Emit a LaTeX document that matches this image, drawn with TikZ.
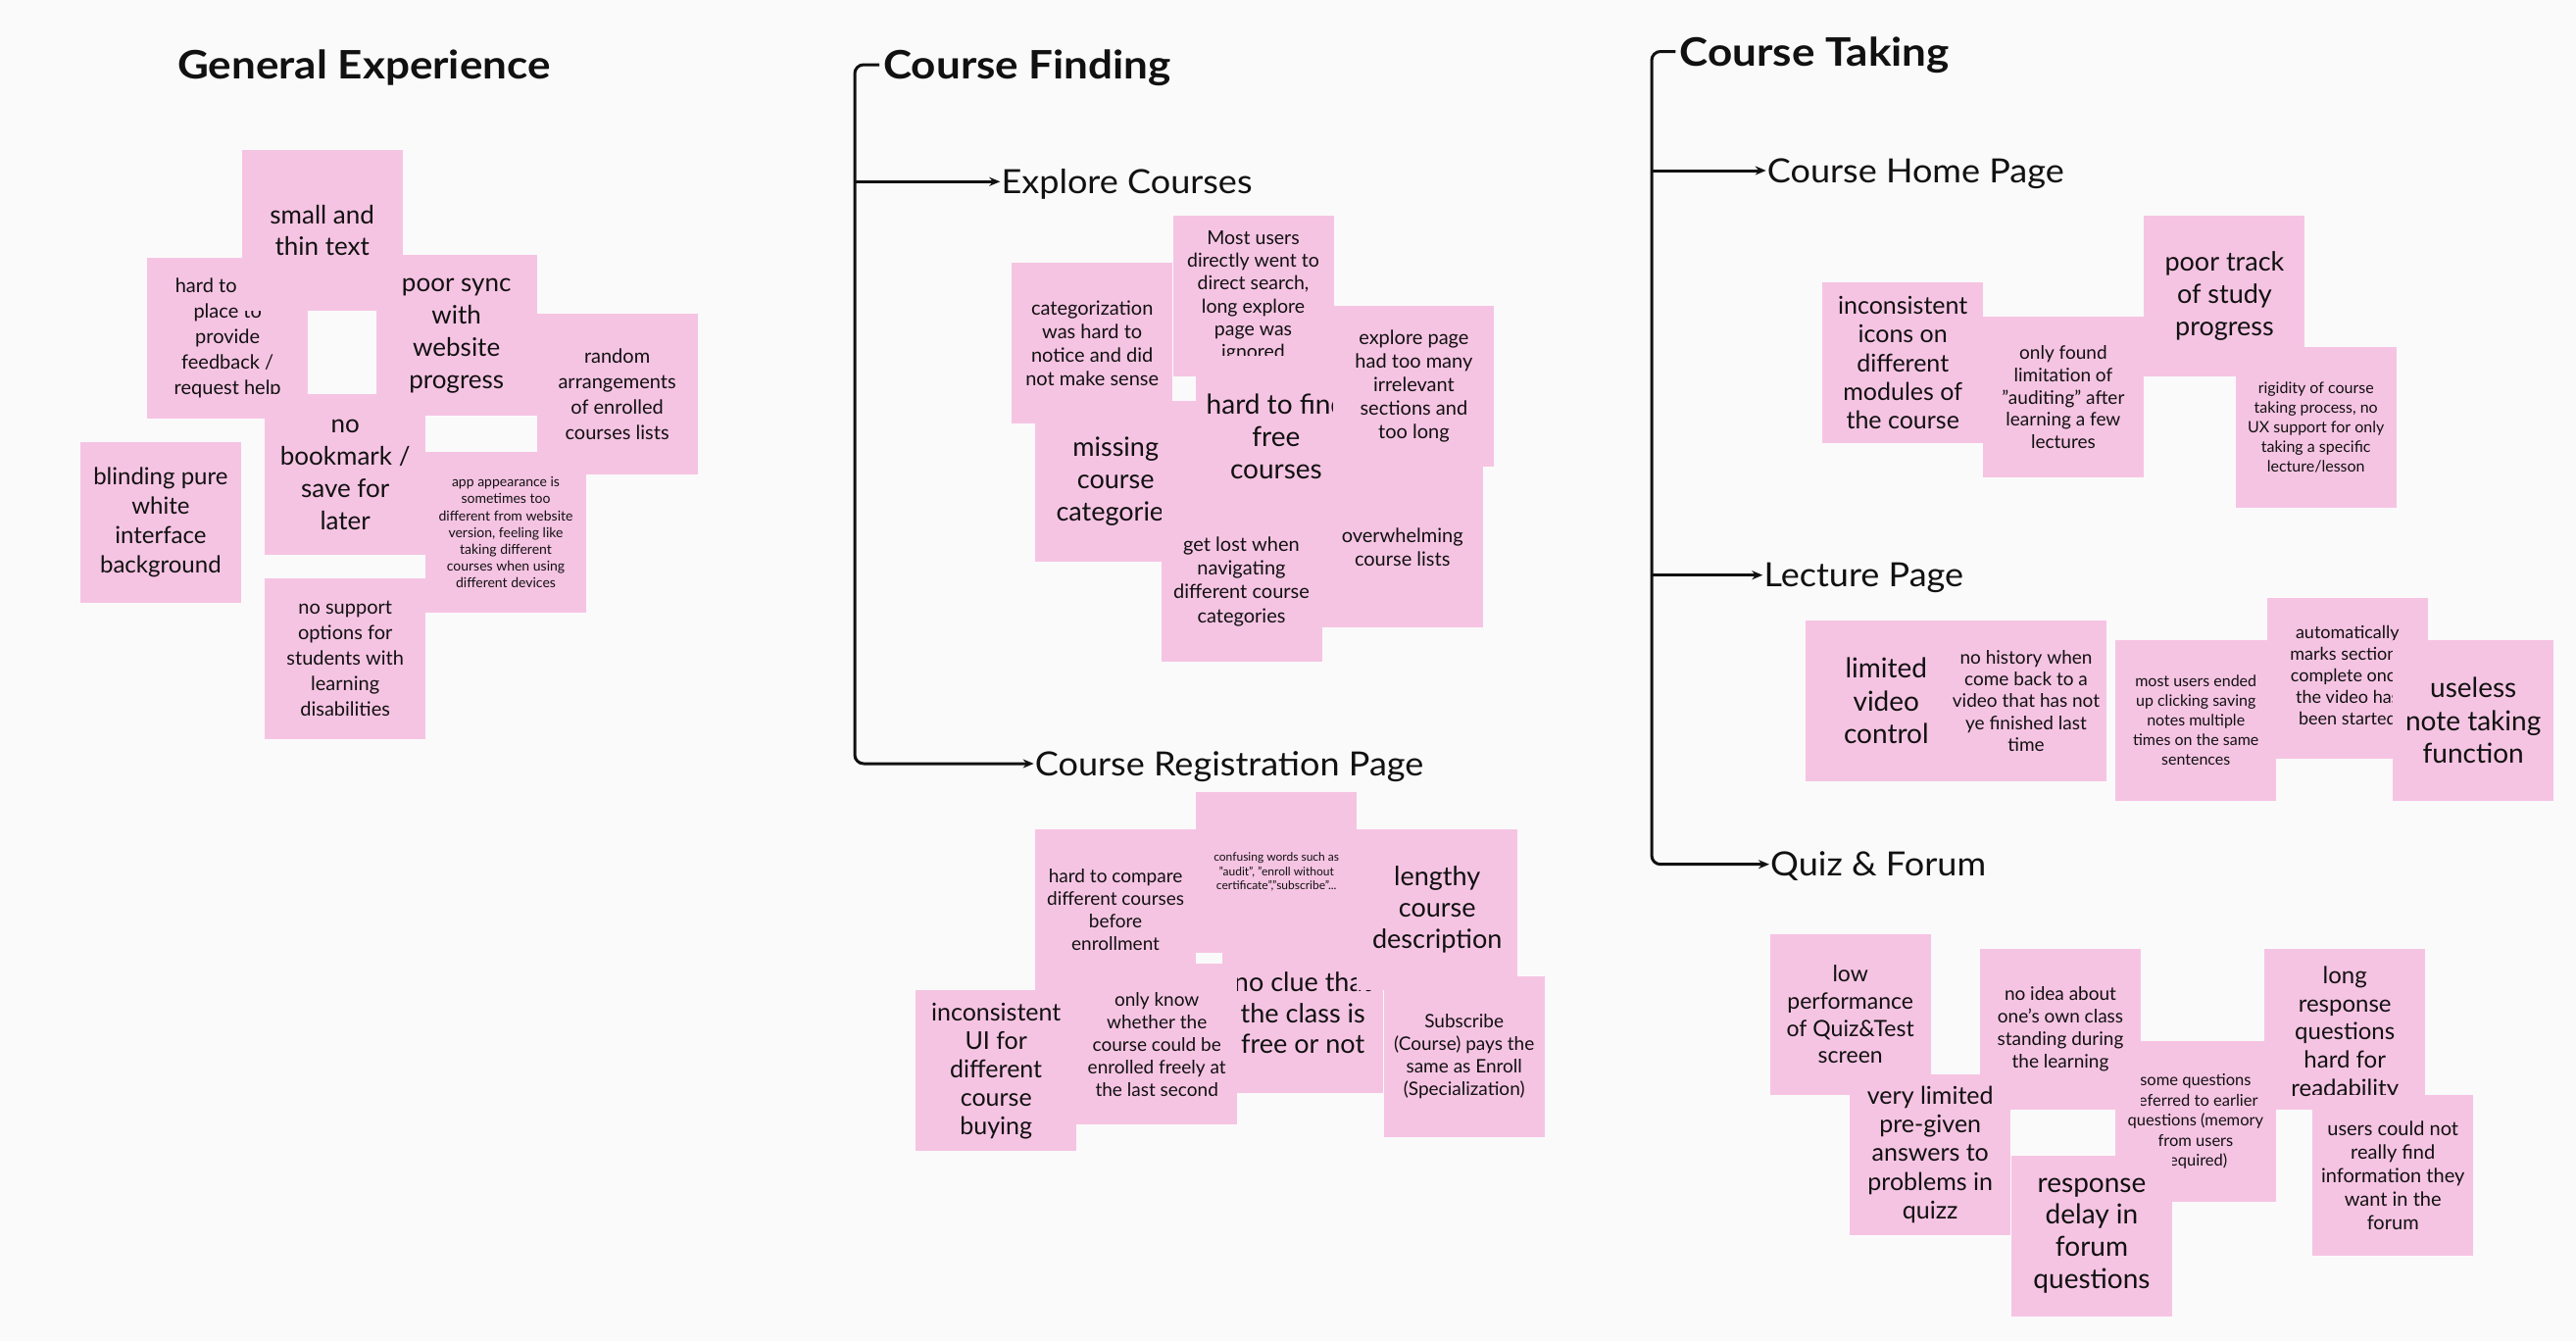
\documentclass[tikz,border=0pt]{standalone}
\usepackage{fontspec}
\setmainfont{Lato}
\newfontfamily\headfont{Lato}[FakeStretch=1.1]
\newfontfamily\subfont{Lato}[FakeStretch=1.06]
\usetikzlibrary{arrows.meta}
\definecolor{bgc}{HTML}{FAFAFA}
\definecolor{stk}{HTML}{F6C4E3}
\definecolor{ink}{HTML}{111111}
\begin{document}
\begin{tikzpicture}[x=1pt,y=-1pt,
  sticky/.style={fill=stk, anchor=north west, minimum width=164pt, minimum height=164pt, inner sep=0pt, align=center, text=ink},
  fs/.style n args={2}{font=\fontsize{#1}{#2}\selectfont},
  head/.style={anchor=west, inner xsep=4pt, inner ysep=0pt, font=\headfont\bfseries\fontsize{40}{48}\selectfont, text height=29pt, text depth=0pt, text=ink},
  sub/.style={anchor=west, inner sep=1pt, font=\subfont\fontsize{34}{40}\selectfont, text height=24pt, text depth=0pt, text=ink},
  conn/.style={draw=ink, line width=3pt, rounded corners=9pt, -{Stealth[length=11pt,width=9pt]}}]

\fill[bgc] (0,0) rectangle (2628,1368);
\useasboundingbox (0,0) rectangle (2628,1368);

% ---------------- headings ----------------
\node[head] (ge) at (177,66) {General Experience};
\node[head] (cf) at (897,66) {Course Finding};
\node[head] (ct) at (1709.3,52.5) {Course Taking};

\node[sub] (explore) at (1020.3,185.3) {Explore Courses};
\node[sub] (reg) at (1054.7,779) {Course Registration Page};
\node[sub] (home) at (1801.7,174) {Course Home Page};
\node[sub] (lecture) at (1798.3,586.7) {Lecture Page};
\node[sub] (quiz) at (1805,881.7) {Quiz \& Forum};

% ---------------- connectors ----------------
\coordinate (cfc) at (872,66);
\coordinate (cfb) at (872,185.3);
\draw[conn] (cf.west) -- (cfc) |- (reg.west);
\draw[conn] (cfb) -- (explore.west);

\coordinate (ctc) at (1685,52.5);
\coordinate (cth) at (1685,174);
\coordinate (ctl) at (1685,586.7);
\draw[conn] (ct.west) -- (ctc) |- (quiz.west);
\draw[conn] (cth) -- (home.west);
\draw[conn] (ctl) -- (lecture.west);

% ---------------- General Experience ----------------
\node[sticky, fs={20}{26}] (gehard) at (150,263) {\hspace*{10pt}hard to find a\\place to\\provide\\feedback /\\request help};
\node[sticky, fs={26}{33}] (gepoor) at (383.5,260) {poor sync\\with\\website\\progress};
\node[sticky, fs={26}{31.6}] (gesmall) at (246.5,153) {small and\\thin text};
\node[sticky, fs={20}{26}] (gerandom) at (547.4,320) {random\\arrangements\\of enrolled\\courses lists};
\node[sticky, fs={26}{33}] (gebook) at (270,402) {no\\bookmark /\\save for\\later};
\node[sticky, fs={24}{30}] (geblind) at (81.7,451) {blinding pure\\white\\interface\\background};
\node[sticky, fs={14}{17.2}] (geapp) at (433.8,461) {app appearance is\\sometimes too\\different from website\\version, feeling like\\taking different\\courses when using\\different devices};
\node[sticky, fs={20}{26}] (gesupport) at (270,590) {no support\\options for\\students with\\learning\\disabilities};

% ---------------- Explore Courses ----------------
\node[sticky, fs={20}{24.3}] (cfcat) at (1032,268) {categorization\\was hard to\\notice and did\\not make sense};
\node[sticky, fs={19.5}{23.2}] (cfmost) at (1196.3,220) {Most users\\directly went to\\direct search,\\long explore\\page was\\ignored};
\node[sticky, fs={27}{32.7}] (cfmissing) at (1056,409) {missing\\course\\categories};
\node[sticky, fs={28}{33.3}] (cfhard) at (1219.7,363) {hard to find\\free\\courses};
\node[sticky, fs={20}{24}] (cfexplore) at (1360.2,312) {explore page\\had too many\\irrelevant\\sections and\\too long};
\node[sticky, fs={20}{24.3}] (cflost) at (1184.3,511) {get lost when\\navigating\\different course\\categories};
\node[sticky, fs={20}{24}] (cfover) at (1348.5,476) {overwhelming\\course lists};

% ---------------- Course Registration Page ----------------
\node[sticky, fs={19}{23}] (crcompare) at (1055.9,845.7) {hard to compare\\different courses\\before\\enrollment};
\node[sticky, fs={12}{14.7}] (crconfuse) at (1220,807.3) {confusing words such as\\"audit", "enroll without\\certificate","subscribe"...};
\node[sticky, fs={27}{31.7}] (crnoclue) at (1247,951) {no clue that\\the class is\\free or not};
\node[sticky, fs={27}{31.7}] (crlengthy) at (1384,845.7) {lengthy\\course\\description};
\node[sticky, fs={19}{23}] (cronly) at (1098,983) {only know\\whether the\\course could be\\enrolled freely at\\the last second};
\node[sticky, fs={25}{29}] (crincons) at (934,1010) {inconsistent\\UI for\\different\\course\\buying};
\node[sticky, fs={19}{23}] (crsub) at (1411.5,995.7) {Subscribe\\(Course) pays the\\same as Enroll\\(Specialization)};

% ---------------- Course Home Page ----------------
\node[sticky, fs={25}{29.3}] (cticons) at (1859,288) {inconsistent\\icons on\\different\\modules of\\the course};
\node[sticky, fs={19}{22.7}] (ctfound) at (2022.7,323) {only found\\limitation of\\"auditing" after\\learning a few\\lectures};
\node[sticky, fs={27}{32.7}] (cttrack) at (2187.2,220) {poor track\\of study\\progress};
\node[sticky, fs={16}{20}] (ctrigid) at (2280.5,353.3) {rigidity of course\\taking process, no\\UX support for only\\taking a specific\\lecture/lesson};

% ---------------- Lecture Page ----------------
\node[sticky, fs={28}{33.3}] (ctlimited) at (1842.1,632.7) {limited\\video\\control};
\node[sticky, fs={19}{22.3}] (cthistory) at (1984.8,632.7) {no history when\\come back to a\\video that has not\\ye finished last\\time};
\node[sticky, fs={16}{20}] (ctnotes) at (2158,652.7) {most users ended\\up clicking saving\\notes multiple\\times on the same\\sentences};
\node[sticky, fs={18}{22}] (ctauto) at (2312.6,609.3) {automatically\\marks sections\\complete once\\the video has\\been started\rule[-5pt]{0pt}{0pt}};
\node[sticky, fs={28}{33.3}] (ctuseless) at (2441,652.7) {useless\\note taking\\function};

% ---------------- Quiz & Forum ----------------
\node[sticky, fs={23}{27.7}] (ctlow) at (1805.5,952.7) {low\\performance\\of Quiz\&Test\\screen};
\node[sticky, fs={16.5}{20.5}] (ctsome) at (2157.7,1061.7) {some questions\\referred to earlier\\questions (memory\\from users\\required)};
\node[sticky, fs={19}{23}] (ctidea) at (2019.8,967.7) {no idea about\\one's own class\\standing during\\the learning};
\node[sticky, fs={25}{29.3}] (ctpregiven) at (1887,1095.7) {very limited\\pre-given\\answers to\\problems in\\quizz};
\node[sticky, fs={24}{28.8}] (ctlong) at (2310,967.7) {\rule{0pt}{26pt}long\\response\\questions\\hard for\\readability};
\node[sticky, fs={20}{24}] (ctusers) at (2359,1116.7) {users could not\\really find\\information they\\want in the\\forum};
\node[sticky, fs={28}{32.7}] (ctdelay) at (2051.8,1178.3) {response\\delay in\\forum\\questions};

\end{tikzpicture}
\end{document}
